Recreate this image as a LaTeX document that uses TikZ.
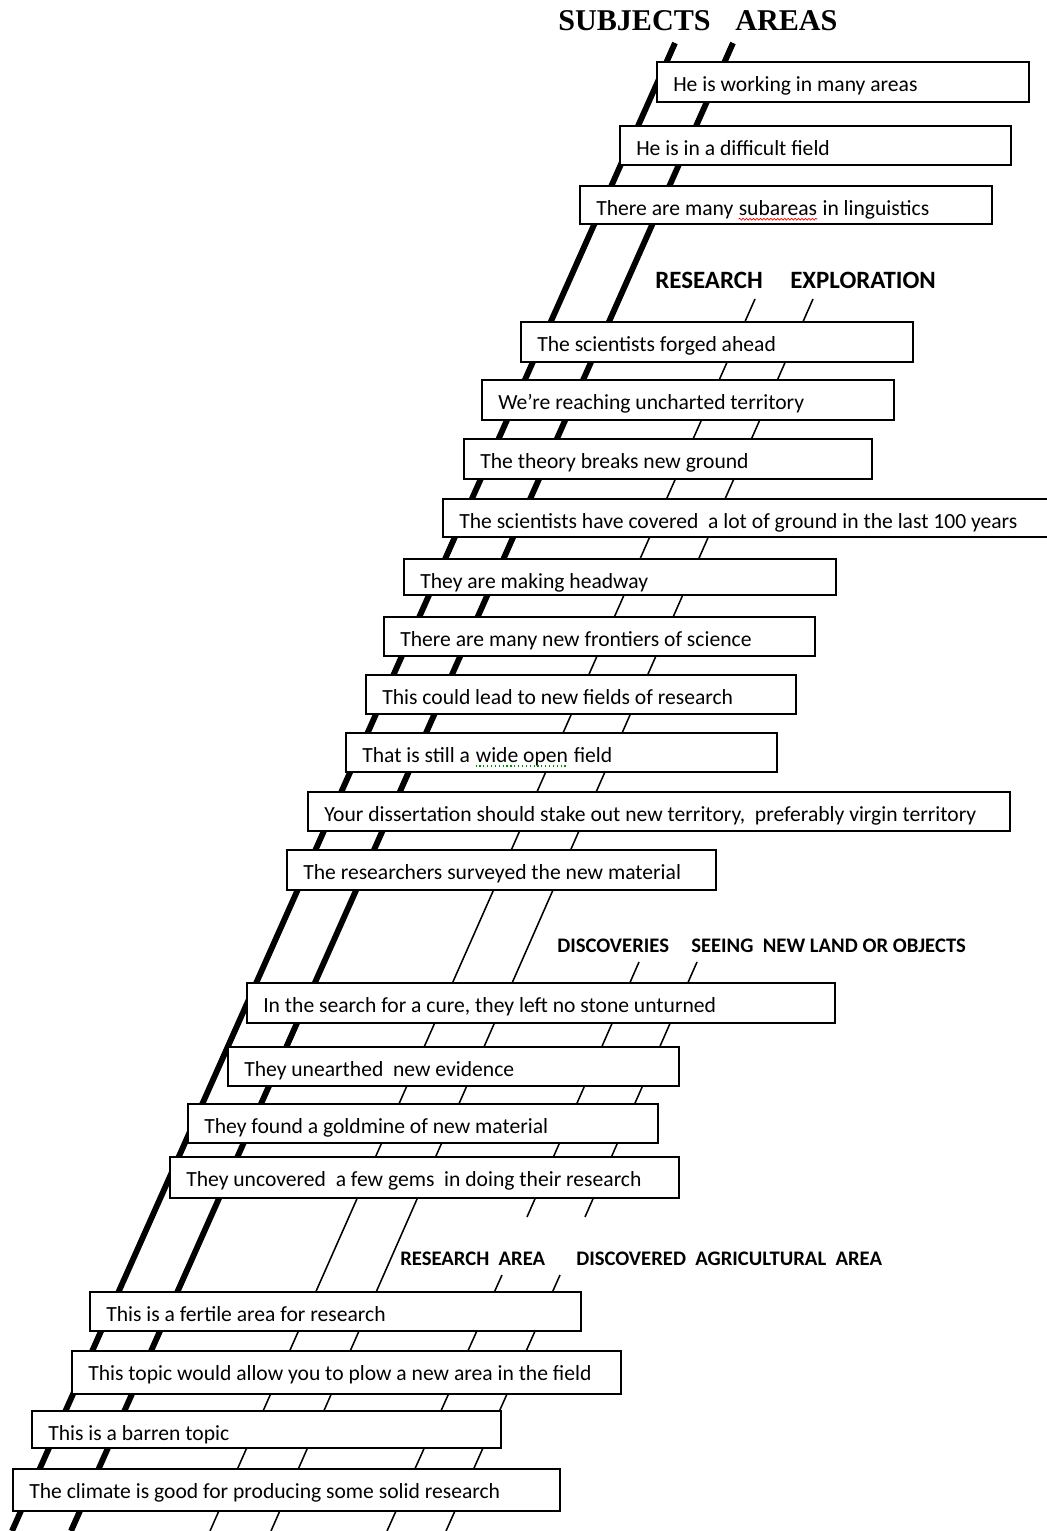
\documentclass[tikz,border=0pt]{standalone}
\usepackage{fontspec}
\setmainfont{Carlito}
\newfontfamily\titlefont{Liberation Serif}
\usetikzlibrary{fit,decorations.pathmorphing}
\tikzset{
  thickrail/.style={line width=4.4pt},
  thinrail/.style={line width=1.15pt},
  tb/.style={draw, line width=1.3pt, fill=white, inner sep=0pt, outer sep=0pt},
  tt/.style={inner sep=0pt, font=\fontsize{16.2}{19}\selectfont},
  lab/.style={inner sep=0pt, font=\bfseries\fontsize{15.5}{18}\selectfont},
  biglab/.style={inner sep=0pt, font=\bfseries\fontsize{18.7}{22}\selectfont},
  titlelab/.style={inner sep=0pt, font=\titlefont\bfseries\fontsize{22.6}{26}\selectfont},
  spellwave/.style={draw=red, line width=0.5pt, decorate, decoration={snake, amplitude=0.7pt, segment length=2.6pt}},
  grammardots/.style={draw=green!55!black, line width=0.9pt, dotted},
}
\newcommand\wavyword[1]{\tikz[baseline=(ww.base)]{\node[inner sep=0pt] (ww) {#1}; \path[spellwave] ([yshift=-2.6pt]ww.base west) -- ([yshift=-2.6pt]ww.base east);}}
\newcommand\dottedword[1]{\tikz[baseline=(dw.base)]{\node[inner sep=0pt] (dw) {#1}; \path[grammardots] ([yshift=-2.4pt]dw.base west) -- ([yshift=-2.4pt]dw.base east);}}
\newcommand\tbox[6]{%
  \coordinate (#1nw) at (#2,#3);
  \coordinate (#1se) at (#4,#5);
  \node[tb, fit=(#1nw)(#1se)] (#1) {};
  \node[tt, anchor=base west] (#1t) at ([xshift=12pt,yshift=-22.3pt]#1.north west) {#6};
}
\begin{document}
\begin{tikzpicture}[x=0.75pt,y=-0.75pt]
\useasboundingbox (0,0) rectangle (1046,1531);
\fill[white] (0,0) rectangle (1046,1531);
% rail end points
\coordinate (subjT) at (675,43);  \coordinate (subjB) at (12,1531);
\coordinate (areaT) at (733,43);  \coordinate (areaB) at (71,1531);
\coordinate (resT) at (755,299);  \coordinate (resB) at (210,1531);
\coordinate (expT) at (813,299);  \coordinate (expB) at (271,1531);
\coordinate (disT) at (639,962);  \coordinate (disB) at (527,1217);
\coordinate (seeT) at (697,962);  \coordinate (seeB) at (585,1217);
\coordinate (raT) at (502,1275);  \coordinate (raB) at (387,1531);
\coordinate (daaT) at (560,1275); \coordinate (daaB) at (446,1531);
% rails
\draw[thickrail] (subjT) -- (subjB);
\draw[thickrail] (areaT) -- (areaB);
\draw[thinrail] (resT) -- (resB);
\draw[thinrail] (expT) -- (expB);
\draw[thinrail] (disT) -- (disB);
\draw[thinrail] (seeT) -- (seeB);
\draw[thinrail] (raT) -- (raB);
\draw[thinrail] (daaT) -- (daaB);
% labels
\node[titlelab, anchor=base west] (lsubj) at (558,31) {SUBJECTS};
\node[titlelab, anchor=base west] (larea) at (735,31) {AREAS};
\node[biglab, anchor=base west] (lres) at (655,288) {RESEARCH};
\node[biglab, anchor=base west] (lexp) at (790,288) {EXPLORATION};
\node[lab, anchor=base west] (ldis) at (557,952) {DISCOVERIES};
\node[lab, anchor=base west] (lsee) at (691,952) {SEEING\ \ NEW LAND OR OBJECTS};
\node[lab, anchor=base west] (lra) at (400,1265) {RESEARCH\ \ AREA};
\node[lab, anchor=base west] (ldaa) at (576,1265) {DISCOVERED\ \ AGRICULTURAL\ \ AREA};
% boxes
\tbox{b1}{657}{62}{1029}{102}{He is working in many areas}
\tbox{b2}{620}{126}{1011}{165}{He is in a difficult field}
\tbox{b3}{580}{186}{992}{224}{There are many \wavyword{subareas} in linguistics}
\tbox{b4}{521}{322}{913}{362}{The scientists forged ahead}
\tbox{b5}{482}{380}{894}{420}{We're reaching uncharted territory}
\tbox{b6}{464}{439}{872}{479}{The theory breaks new ground}
\tbox{b7}{443}{499}{1060}{537}{The scientists have covered\ \ a lot of ground in the last 100 years}
\tbox{b8}{404}{559}{836}{595}{They are making headway}
\tbox{b9}{384}{617}{815}{656}{There are many new frontiers of science}
\tbox{b10}{366}{675}{796}{714}{This could lead to new fields of research}
\tbox{b11}{346}{733}{777}{772}{That is still a \dottedword{wide open} field}
\tbox{b12}{308}{792}{1010}{831}{Your dissertation should stake out new territory,\ \ preferably virgin territory}
\tbox{b13}{287}{850}{716}{890}{The researchers surveyed the new material}
\tbox{b14}{247}{983}{835}{1023}{In the search for a cure, they left no stone unturned}
\tbox{b15}{228}{1047}{679}{1086}{They unearthed\ \ new evidence}
\tbox{b16}{188}{1104}{658}{1143}{They found a goldmine of new material}
\tbox{b17}{170}{1157}{679}{1198}{They uncovered\ \ a few gems\ \ in doing their research}
\tbox{b18}{90}{1292}{581}{1331}{This is a fertile area for research}
\tbox{b19}{72}{1351}{621}{1394}{This topic would allow you to plow a new area in the field}
\tbox{b20}{32}{1411}{501}{1448}{This is a barren topic}
\tbox{b21}{13}{1469}{560}{1511}{The climate is good for producing some solid research}
\end{tikzpicture}
\end{document}
